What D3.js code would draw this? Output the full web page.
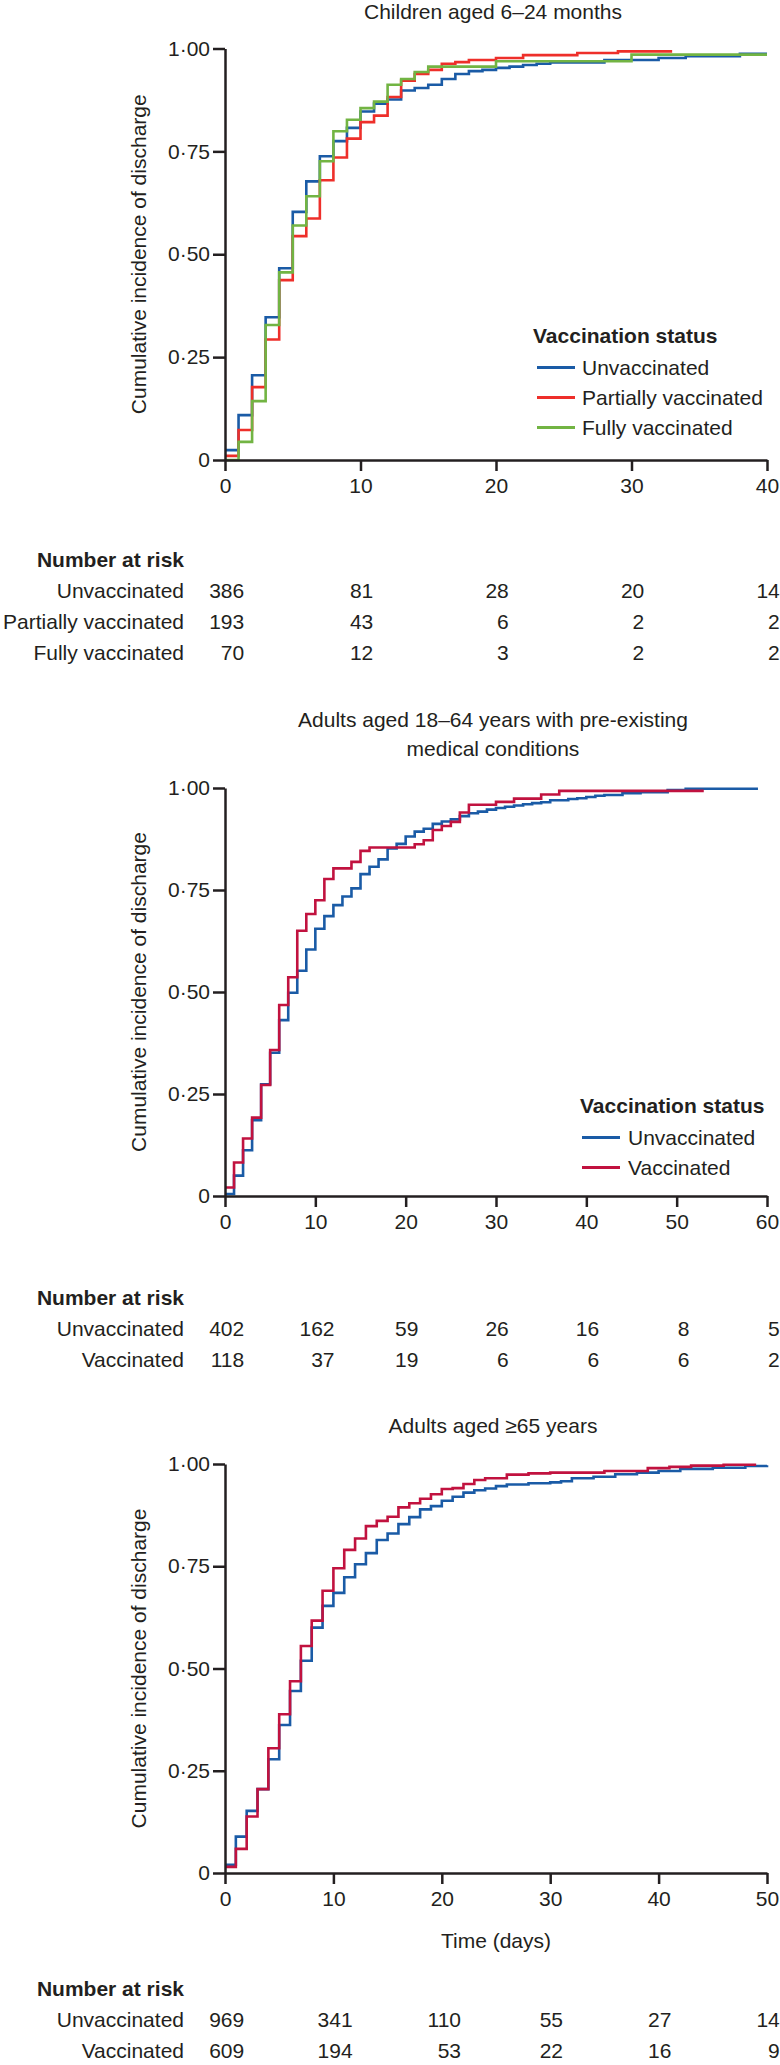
<!DOCTYPE html>
<html lang="en">
<head>
<meta charset="utf-8">
<title>Cumulative incidence of discharge by vaccination status</title>
<script src="https://cdnjs.cloudflare.com/ajax/libs/d3/7.8.5/d3.min.js"></script>
<style>
body { margin: 0; background: #fff; }
svg text { font-family: "Liberation Sans", Arial, sans-serif; fill: #231f20; }
</style>
</head>
<body>
<script>
var W = 780, H = 2065;
var ink = "#231f20";
var fontStack = "'Liberation Sans', Arial, sans-serif";
var fs = 21;

var blue = "#1a5ba6", brightRed = "#ee2f2a", green = "#72b443", crimson = "#c1123f";

// shared y ticks
var yTicks = [0, 0.25, 0.5, 0.75, 1];
var yTickLabels = ["0", "0·25", "0·50", "0·75", "1·00"];

// ---- children aged 6-24 months ----
var childTicks = [0, 10, 20, 30, 40];
var childUnvacDays = [0,1,2,3,4,5,6,7,8,9,10,11,12,13,14,15,16,17,18,19,20,21,22,23,24,28,32,34,38,40];
var childUnvacCum  = [0.024,0.109,0.206,0.347,0.466,0.603,0.677,0.738,0.775,0.807,0.847,0.866,0.876,0.898,0.904,0.912,0.926,0.938,0.945,0.948,0.953,0.956,0.960,0.963,0.966,0.972,0.977,0.981,0.987,0.987];
var childPartDays = [0,1,2,3,4,5,6,7,8,9,10,11,12,13,14,15,16,17,18,20,22,26,29,33];
var childPartCum  = [0.010,0.073,0.177,0.293,0.437,0.544,0.587,0.680,0.735,0.781,0.821,0.837,0.882,0.922,0.938,0.948,0.963,0.967,0.972,0.977,0.984,0.989,0.993,0.993];
var childFullDays = [0,1,2,3,4,5,6,7,8,9,10,11,12,13,14,15,20,30,40];
var childFullCum  = [0,0.044,0.143,0.328,0.456,0.570,0.641,0.726,0.799,0.827,0.855,0.871,0.912,0.926,0.943,0.956,0.969,0.985,0.985];
var childGroups = ["Unvaccinated", "Partially vaccinated", "Fully vaccinated"];
var childRisk = [[386, 81, 28, 20, 14], [193, 43, 6, 2, 2], [70, 12, 3, 2, 2]];

// ---- adults 18-64 with pre-existing conditions ----
var adultTicks = [0, 10, 20, 30, 40, 50, 60];
var adultUnvacDays = [0,1,2,3,4,5,6,7,8,9,10,11,12,13,14,15,16,17,18,19,20,21,22,23,24,25,26,27,28,29,30,31,32,33,34,35,36,38,39,40,41,42,44,46,49,51,59];
var adultUnvacCum  = [0.005,0.050,0.112,0.186,0.274,0.351,0.431,0.498,0.552,0.604,0.655,0.686,0.713,0.734,0.754,0.789,0.807,0.825,0.852,0.863,0.881,0.893,0.900,0.912,0.918,0.923,0.931,0.938,0.942,0.947,0.951,0.954,0.957,0.960,0.963,0.965,0.970,0.973,0.975,0.978,0.981,0.983,0.987,0.990,0.995,0.998,0.998];
var adultVacDays = [0,1,2,3,4,5,6,7,8,9,10,11,12,14,15,16,21,22,23,24,25,26,27,30,32,35,37,53];
var adultVacCum  = [0.021,0.082,0.141,0.192,0.272,0.358,0.468,0.536,0.650,0.691,0.725,0.777,0.803,0.819,0.846,0.854,0.862,0.872,0.897,0.907,0.917,0.940,0.959,0.966,0.974,0.984,0.993,0.993];
var adultGroups = ["Unvaccinated", "Vaccinated"];
var adultRisk = [[402, 162, 59, 26, 16, 8, 5], [118, 37, 19, 6, 6, 6, 2]];

// ---- adults aged >=65 ----
var olderTicks = [0, 10, 20, 30, 40, 50];
var olderUnvacDays = [0,1,2,3,4,5,6,7,8,9,10,11,12,13,14,15,16,17,18,19,20,21,22,23,24,25,26,28,30,31,32,34,36,38,40,42,45,48,50];
var olderUnvacCum  = [0.020,0.089,0.152,0.205,0.278,0.362,0.445,0.519,0.600,0.653,0.685,0.723,0.755,0.782,0.814,0.830,0.853,0.870,0.889,0.897,0.910,0.920,0.930,0.936,0.940,0.946,0.950,0.953,0.955,0.958,0.965,0.969,0.975,0.979,0.983,0.988,0.991,0.995,0.997];
var olderVacDays = [0,1,2,3,4,5,6,7,8,9,10,11,12,13,14,15,16,17,18,19,20,21,22,23,24,26,28,30,35,39,41,43,46,49];
var olderVacCum  = [0.015,0.059,0.138,0.205,0.305,0.388,0.469,0.555,0.617,0.690,0.745,0.790,0.818,0.848,0.861,0.871,0.894,0.904,0.915,0.926,0.939,0.941,0.951,0.961,0.965,0.974,0.977,0.979,0.983,0.990,0.993,0.996,0.998,0.998];
var olderGroups = ["Unvaccinated", "Vaccinated"];
var olderRisk = [[969, 341, 110, 55, 27, 14], [609, 194, 53, 22, 16, 9]];

function series(days, cum, color, name) {
  return { name: name, color: color, pts: days.map(function(d, i) { return [d, cum[i]]; }) };
}

var panels = [
  {
    title: ["Children aged 6–24 months"], titleY: 19,
    ticks: childTicks, yTop: 48.5, yBottom: 460,
    lines: [
      series(childUnvacDays, childUnvacCum, blue, "Unvaccinated"),
      series(childPartDays, childPartCum, brightRed, "Partially vaccinated"),
      series(childFullDays, childFullCum, green, "Fully vaccinated")
    ],
    legend: { x: 533, y: 343, lineX: 537, textX: 582 },
    groups: childGroups, risk: childRisk, riskY: 567
  },
  {
    title: ["Adults aged 18–64 years with pre-existing", "medical conditions"], titleY: 727,
    ticks: adultTicks, yTop: 788, yBottom: 1196,
    lines: [
      series(adultUnvacDays, adultUnvacCum, blue, "Unvaccinated"),
      series(adultVacDays, adultVacCum, crimson, "Vaccinated")
    ],
    legend: { x: 580, y: 1113, lineX: 582, textX: 628 },
    groups: adultGroups, risk: adultRisk, riskY: 1305
  },
  {
    title: ["Adults aged ≥65 years"], titleY: 1433,
    ticks: olderTicks, yTop: 1464, yBottom: 1873,
    lines: [
      series(olderUnvacDays, olderUnvacCum, blue, "Unvaccinated"),
      series(olderVacDays, olderVacCum, crimson, "Vaccinated")
    ],
    legend: null, xLabel: "Time (days)",
    groups: olderGroups, risk: olderRisk, riskY: 1996
  }
];

var svg = d3.select("body").append("svg")
  .attr("width", W)
  .attr("height", H);

var plotLeft = 225, plotRight = 767, labelRight = 184;

panels.forEach(function(p) {
  var x = d3.scaleLinear()
    .domain([0, p.ticks[p.ticks.length - 1]])
    .range([plotLeft, plotRight]);
  var y = d3.scaleLinear().domain([0, 1]).range([p.yBottom, p.yTop]);
  var g = svg.append("g");

  // title
  var cx = (plotLeft + plotRight) / 2 - 3;
  p.title.forEach(function(t, i) {
    g.append("text")
      .attr("x", cx).attr("y", p.titleY + i * 28.5)
      .attr("text-anchor", "middle")
      .attr("font-size", fs)
      .text(t);
  });

  // step curves
  var line = d3.line()
    .x(function(d) { return x(d[0]); })
    .y(function(d) { return y(d[1]); })
    .curve(d3.curveStepAfter);

  p.lines.forEach(function(s) {
    g.append("path")
      .attr("d", line(s.pts))
      .attr("fill", "none")
      .attr("stroke", s.color)
      .attr("stroke-width", 2.6);
  });

  // axes
  var ax = g.append("g")
    .attr("transform", "translate(0," + p.yBottom + ")")
    .call(d3.axisBottom(x).tickValues(p.ticks).tickSize(11).tickSizeOuter(0).tickPadding(7).tickFormat(d3.format("d")));
  var ay = g.append("g")
    .attr("transform", "translate(" + plotLeft + ",0)")
    .call(d3.axisLeft(y).tickValues(yTicks).tickSize(12).tickSizeOuter(0).tickPadding(3)
      .tickFormat(function(d, i) { return yTickLabels[i]; }));

  [ax, ay].forEach(function(a) {
    a.attr("font-size", fs).attr("font-family", fontStack).attr("color", ink);
    a.selectAll(".domain, .tick line").attr("stroke-width", 2.5);
  });

  // y axis title
  g.append("text")
    .attr("transform", "translate(146," + ((p.yTop + p.yBottom) / 2) + ") rotate(-90)")
    .attr("text-anchor", "middle")
    .attr("font-size", fs)
    .text("Cumulative incidence of discharge");

  if (p.xLabel) {
    g.append("text")
      .attr("x", (plotLeft + plotRight) / 2)
      .attr("y", p.yBottom + 75)
      .attr("text-anchor", "middle")
      .attr("font-size", fs)
      .text(p.xLabel);
  }

  // legend
  if (p.legend) {
    var L = p.legend;
    g.append("text")
      .attr("x", L.x).attr("y", L.y)
      .attr("font-size", fs).attr("font-weight", "bold")
      .text("Vaccination status");
    p.lines.forEach(function(s, i) {
      var ly = L.y + 24.5 + i * 30;
      g.append("line")
        .attr("x1", L.lineX).attr("x2", L.lineX + 38)
        .attr("y1", ly).attr("y2", ly)
        .attr("stroke", s.color).attr("stroke-width", 3);
      g.append("text")
        .attr("x", L.textX).attr("y", ly + 7)
        .attr("font-size", fs)
        .text(s.name);
    });
  }

  // number at risk table
  g.append("text")
    .attr("x", labelRight).attr("y", p.riskY)
    .attr("text-anchor", "end")
    .attr("font-size", fs).attr("font-weight", "bold")
    .text("Number at risk");

  p.groups.forEach(function(name, r) {
    var ry = p.riskY + 31 + r * 31;
    g.append("text")
      .attr("x", labelRight).attr("y", ry)
      .attr("text-anchor", "end")
      .attr("font-size", fs)
      .text(name);
    p.risk[r].forEach(function(n, c) {
      var maxLen = d3.max(p.risk, function(row) { return String(row[c]).length; });
      g.append("text")
        .attr("x", x(p.ticks[c]) + Math.max(2, maxLen) * 6.4)
        .attr("y", ry)
        .attr("text-anchor", "end")
        .attr("font-size", fs)
        .text(n);
    });
  });
});
</script>
</body>
</html>
